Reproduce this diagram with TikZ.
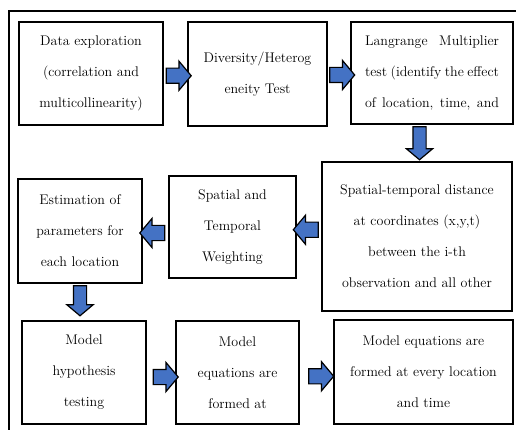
\documentclass[tikz,border=0pt]{standalone}
\usepackage{fontspec}
\usetikzlibrary{shapes.arrows,calc}
\definecolor{flowblue}{HTML}{4472C4}

\begin{document}
\begin{tikzpicture}[x=1pt,y=-1pt]
	\tikzstyle{stepbox} = [draw=black, line width=1.5pt, align=center, inner sep=0, font=\fontsize{14}{31}\selectfont]
	\tikzstyle{flow} = [single arrow, draw=black, line width=1.2pt, fill=flowblue, single arrow head extend=7pt, single arrow tip angle=100, minimum height=25pt, inner xsep=0, inner ysep=7pt]
	\tikzstyle{downflow} = [flow, shape border rotate=270, inner xsep=6pt, inner ysep=0, single arrow head extend=6.5pt]
	\useasboundingbox (0,0) rectangle (516,430);
	\draw [line width=1.5pt] (9,440) -- (9,11) -- (530,11);
	
	\node [stepbox, minimum width=144pt, minimum height=103pt] (b1) at (91,73.5) {Data exploration\\(correlation and\\multicollinearity)};
	\node [stepbox, minimum width=139pt, minimum height=104pt] (b2) at (257.5,74) {Diversity/Heterog\\eneity Test};
	\node [stepbox, minimum width=162pt, minimum height=102pt] (b3) at (432,73) {\makebox[134pt][s]{Langrange Multiplier}\\\makebox[134pt][s]{test (identify the effect}\\\makebox[134pt][s]{of location, time, and}};
	\node [stepbox, minimum width=190pt, minimum height=149pt] (b4) at (417,236.5) {Spatial-temporal distance\\at coordinates (x,y,t)\\between the i-th\\observation and all other};
	\node [stepbox, minimum width=127pt, minimum height=102pt] (b5) at (232.5,227) {Spatial and\\Temporal\\Weighting};
	\node [stepbox, minimum width=124pt, minimum height=104pt] (b6) at (80,231) {Estimation of\\parameters for\\each location};
	\node [stepbox, minimum width=124pt, minimum height=103pt] (b7) at (84,372.5) {Model\\hypothesis\\testing};
	\node [stepbox, minimum width=123pt, minimum height=103pt] (b8) at (237.5,372.5) {Model\\equations are\\formed at};
	\node [stepbox, minimum width=179pt, minimum height=104pt] (b9) at (423.5,372) {Model equations are\\formed at every location\\and time};
	
	\node [flow] (a1) at ($(b1.east)!0.5!(b2.west)+(0,2)$) {};
	\node [flow] (a2) at ($(b2.east)!0.5!(b3.west)+(0,1.5)$) {};
	\node [downflow, minimum height=33pt] (a3) at ($(b3.south)!0.5!(b4.north)+(-5,-2.5)$) {};
	\node [flow, shape border rotate=180] (a4) at ($(b4.west)!0.5!(b5.east)+(0,-2)$) {};
	\node [flow, shape border rotate=180] (a5) at ($(b5.west)!0.5!(b6.east)+(0,4)$) {};
	\node [downflow, minimum height=30pt] (a6) at ($(b6.south)!0.5!(b7.north)+(-2,-4)$) {};
	\node [flow] (a7) at ($(b7.east)!0.5!(b8.west)+(1.5,4.5)$) {};
	\node [flow] (a8) at ($(b8.east)!0.5!(b9.west)+(1.5,4)$) {};
\end{tikzpicture}
\end{document}
